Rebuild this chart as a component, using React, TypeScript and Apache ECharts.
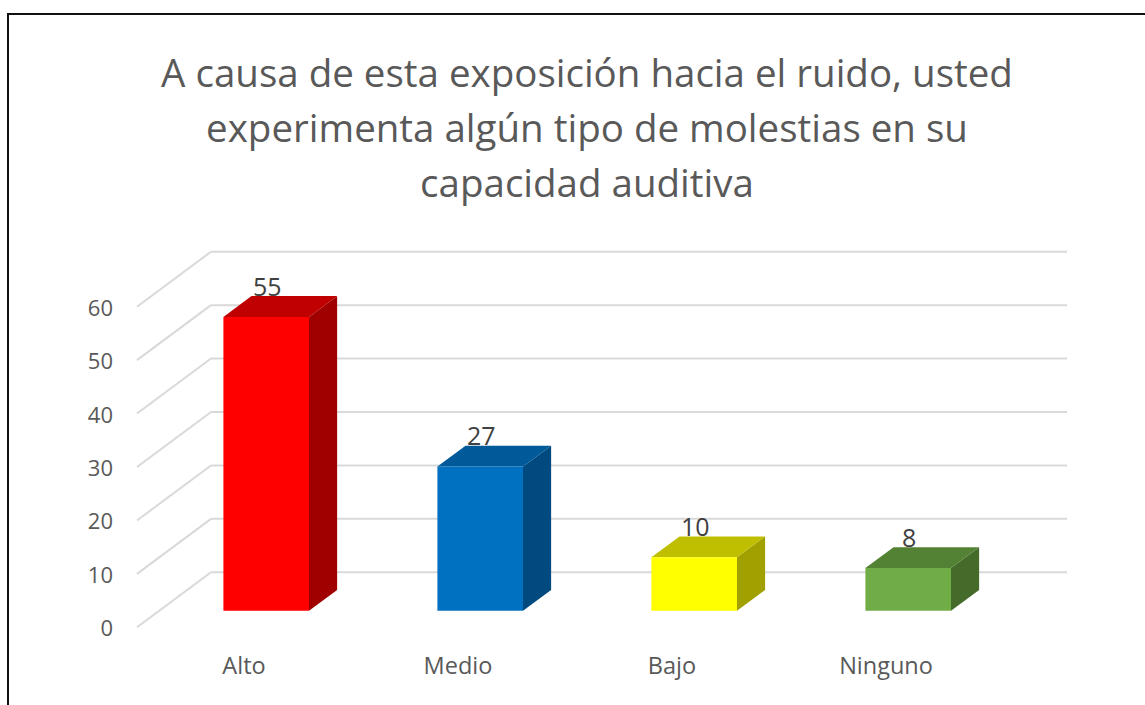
import React, { useEffect, useRef } from "react";
import * as echarts from "echarts";

const titleText =
  "A causa de esta exposición hacia el ruido, usted\nexperimenta algún tipo de molestias en su\ncapacidad auditiva";
const categories = ["Alto", "Medio", "Bajo", "Ninguno"];
const values = [55, 27, 10, 8];
const yTicks = [0, 10, 20, 30, 40, 50, 60];

const frontColors = ["#FF0000", "#0070C0", "#FFFF00", "#70AD47"];
const topColors = ["#C00000", "#005A9A", "#BFBF00", "#548235"];
const sideColors = ["#A00000", "#004A80", "#A0A000", "#446B2A"];

const DX = 74;
const DY = 55;
const D0 = 0.3;
const D1 = 0.68;
const BAR_FRAC = 0.4;
const FONT = "'Open Sans', 'Noto Sans', sans-serif";

export default function App() {
  const ref = useRef<HTMLDivElement>(null);
  useEffect(() => {
    if (!ref.current) return;
    const chart = echarts.init(ref.current, undefined, { renderer: "svg" });
    const option: any = {
      animation: false,
      backgroundColor: "#ffffff",
      title: {
        text: titleText,
        left: 582,
        textAlign: "center",
        top: 39,
        textStyle: {
          fontFamily: FONT,
          fontSize: 38.5,
          fontWeight: "normal",
          color: "#595959",
          lineHeight: 55,
        },
      },
      graphic: [
        {
          type: "rect",
          shape: { x: 8, y: 14, width: 1200, height: 800 },
          style: { fill: "none", stroke: "#111111", lineWidth: 2 },
          z: 100,
        },
      ],
      grid: { left: 137, right: 152, top: 306.7, bottom: 77.7 },
      xAxis: {
        type: "category",
        data: categories,
        axisLine: { show: false },
        axisTick: { show: false },
        splitLine: { show: false },
        axisLabel: {
          margin: 26,
          fontFamily: FONT,
          fontSize: 23.5,
          color: "#595959",
        },
      },
      yAxis: {
        type: "value",
        min: 0,
        max: 60,
        interval: 10,
        axisLine: { show: false },
        axisTick: { show: false },
        splitLine: { show: false },
        axisLabel: {
          margin: 24,
          fontFamily: FONT,
          fontSize: 22,
          color: "#595959",
        },
      },
      series: [
        {
          type: "custom",
          name: "grid",
          silent: true,
          clip: false,
          z: 1,
          data: yTicks.map((v) => [0, v]),
          renderItem: (params: any, api: any) => {
            const p = api.coord([0, api.value(1)]);
            const cs = params.coordSys;
            const x0 = cs.x;
            const x1 = cs.x + cs.width;
            const y = p[1];
            const st = { stroke: "#D9D9D9", lineWidth: 2, fill: "none" };
            return {
              type: "group",
              children: [
                {
                  type: "line",
                  shape: { x1: x0, y1: y, x2: x0 + DX, y2: y - DY },
                  style: st,
                },
                {
                  type: "line",
                  shape: { x1: x0 + DX, y1: y - DY, x2: x1 + DX, y2: y - DY },
                  style: st,
                },
              ],
            };
          },
        },
        {
          type: "custom",
          name: "bars",
          clip: false,
          z: 5,
          data: values.map((v, i) => [i, v]),
          renderItem: (params: any, api: any) => {
            const i = params.dataIndex;
            const v = api.value(1);
            const base = api.coord([api.value(0), 0]);
            const top = api.coord([api.value(0), v]);
            const w = api.size([1, 0])[0] * BAR_FRAC;
            const cx = base[0] + DX * D0;
            const xl = cx - w / 2;
            const xr = cx + w / 2;
            const yt = top[1] - DY * D0;
            const yb = base[1] - DY * D0;
            const ddx = DX * (D1 - D0);
            const ddy = DY * (D1 - D0);
            return {
              type: "group",
              children: [
                {
                  type: "polygon",
                  shape: {
                    points: [
                      [xr, yt],
                      [xr + ddx, yt - ddy],
                      [xr + ddx, yb - ddy],
                      [xr, yb],
                    ],
                  },
                  style: { fill: sideColors[i] },
                },
                {
                  type: "polygon",
                  shape: {
                    points: [
                      [xl, yt],
                      [xr, yt],
                      [xr + ddx, yt - ddy],
                      [xl + ddx, yt - ddy],
                    ],
                  },
                  style: { fill: topColors[i] },
                },
                {
                  type: "rect",
                  shape: { x: xl, y: yt, width: w, height: yb - yt },
                  style: { fill: frontColors[i] },
                },
                {
                  type: "text",
                  style: {
                    text: String(v),
                    x: cx + 1,
                    y: yt - ddy + 2,
                    textAlign: "center",
                    textVerticalAlign: "bottom",
                    fontFamily: FONT,
                    fontSize: 25,
                    fill: "#404040",
                  },
                },
              ],
            };
          },
        },
      ],
    };
    chart.setOption(option);
    return () => chart.dispose();
  }, []);
  return (
    <div
      ref={ref}
      style={{ position: "fixed", left: 0, top: 0, width: 1145, height: 705 }}
    />
  );
}
